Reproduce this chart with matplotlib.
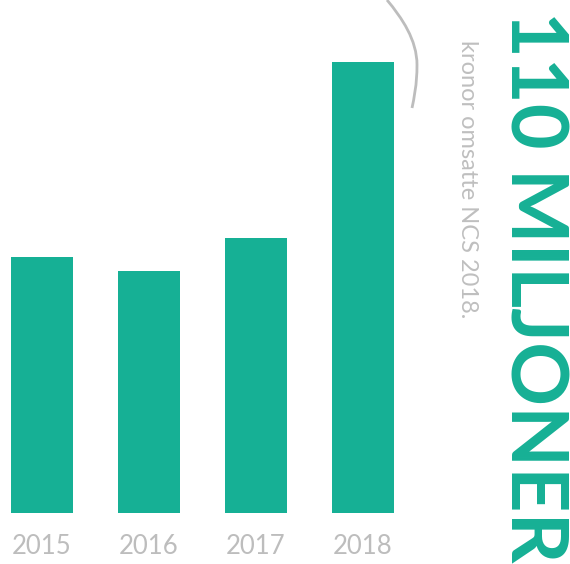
import matplotlib
matplotlib.use("Agg")
import matplotlib.pyplot as plt
from matplotlib.path import Path
from matplotlib.patches import PathPatch

years = ["2015", "2016", "2017", "2018"]
values = [62.5, 59.0, 67.0, 110.0]

W, H = 570, 564
TEAL = "#16b095"
GREY = "#bdbdbd"

fig = plt.figure(figsize=(W / 100, H / 100), dpi=100)
fig.patch.set_facecolor("white")

# axes spanning px x 0..410, y top 0..513
ax = fig.add_axes([0, (H - 513) / H, 410 / W, 513 / H])
x = list(range(len(years)))
ax.bar(x, values, width=62 / 107, color=TEAL)
ax.set_xlim((0 - 42) / 107, (410 - 42) / 107)
ax.set_ylim(0, 110 * 513 / 451)
ax.axis("off")

for i, y in enumerate(years):
    fig.text((42 + 107 * i) / W, 1 - 547 / H, y, ha="center", va="center",
             fontsize=18.5, color=GREY, family="Lato")

fig.text(510 / W, 1 - 11 / H, "110 MILJONER", rotation=-90, rotation_mode="anchor",
         ha="left", va="baseline", fontsize=57, fontweight="bold", color=TEAL, family="Lato")
fig.text(461 / W, 1 - 40 / H, "kronor omsatte NCS 2018.", rotation=-90, rotation_mode="anchor",
         ha="left", va="baseline", fontsize=17, fontweight="normal", color="#bfbfbf", family="Lato")

pts = [(387, 0), (402, 18), (417, 40), (417, 65), (417, 85), (414, 98), (412, 108)]
verts = [(px / W, 1 - py / H) for px, py in pts]
codes = [Path.MOVETO] + [Path.CURVE4] * 6
path = Path(verts, codes)
fig.add_artist(PathPatch(path, facecolor="none", edgecolor=GREY, lw=2,
                         transform=fig.transFigure))

fig.savefig("out.png", dpi=100)
